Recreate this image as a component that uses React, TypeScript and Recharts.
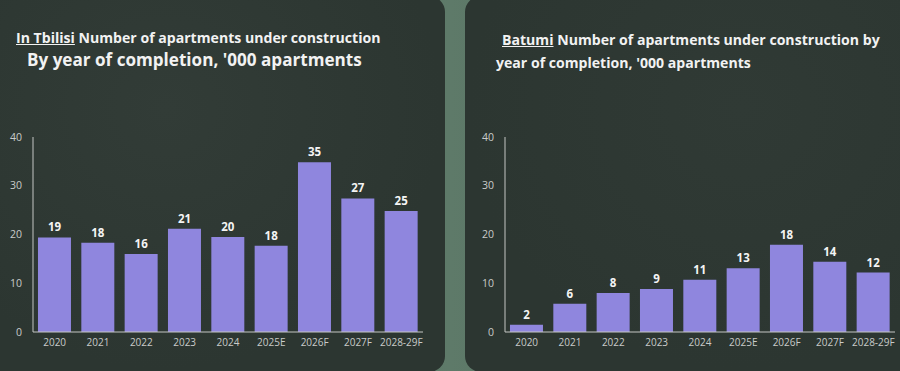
import { BarChart, Bar, XAxis, YAxis, LabelList } from 'recharts';

const years = ['2020', '2021', '2022', '2023', '2024', '2025E', '2026F', '2027F', '2028-29F'];
const tbilisiValues = [19.4, 18.3, 16.0, 21.2, 19.5, 17.7, 34.8, 27.4, 24.8];
const batumiValues = [1.5, 5.8, 8.0, 8.8, 10.7, 13.1, 17.9, 14.4, 12.2];
const yTicks = [0, 10, 20, 30, 40];

const BAR_COLOR = '#8f86de';
const PANEL_COLOR = '#2c3631';
const AXIS_COLOR = '#c4c6c4';
const FONT = '"Open Sans", "Noto Sans", sans-serif';

const toRows = (values: number[]) => years.map((year, i) => ({ year, value: values[i] }));

function YearChart({ values, width }: { values: number[]; width: number }) {
  const data = toRows(values);
  return (
    <BarChart
      width={width}
      height={240}
      data={data}
      margin={{ top: 17, right: width - 33 - 390, left: 0, bottom: 8 }}
      barCategoryGap="11.5%"
    >
      <XAxis
        dataKey="year"
        height={20}
        interval={0}
        tickLine={false}
        tickMargin={1}
        axisLine={{ stroke: AXIS_COLOR, strokeWidth: 1 }}
        tick={{ fill: '#c9cbc9', fontSize: 10, fontFamily: FONT }}
      />
      <YAxis
        width={33}
        domain={[0, 40]}
        ticks={yTicks}
        tickLine={false}
        tickMargin={5}
        axisLine={{ stroke: AXIS_COLOR, strokeWidth: 1 }}
        tick={{ fill: '#c9cbc9', fontSize: 10.5, fontFamily: FONT }}
      />
      <Bar dataKey="value" fill={BAR_COLOR} isAnimationActive={false}>
        <LabelList
          dataKey="value"
          position="top"
          offset={6}
          formatter={(v: number) => Math.round(v)}
          style={{ fill: '#f4f4f4', fontSize: 11.5, fontWeight: 700, fontFamily: FONT }}
        />
      </Bar>
    </BarChart>
  );
}

export default function App() {
  return (
    <div
      style={{
        position: 'absolute',
        left: 0,
        top: 0,
        width: 900,
        height: 371,
        overflow: 'hidden',
        fontFamily: FONT,
        background: 'linear-gradient(90deg, #4f6457 0%, #5e7a69 50%, #4f6457 100%)',
      }}
    >
      {/* Tbilisi panel */}
      <div
        style={{
          position: 'absolute',
          left: -20,
          top: -4,
          width: 465,
          height: 376,
          borderRadius: 16,
          background: `radial-gradient(ellipse at 40% 30%, #323c37 0%, ${PANEL_COLOR} 70%)`,
        }}
      />
      {/* Batumi panel */}
      <div
        style={{
          position: 'absolute',
          left: 465,
          top: -4,
          width: 460,
          height: 376,
          borderRadius: 16,
          background: `radial-gradient(ellipse at 60% 30%, #303a35 0%, ${PANEL_COLOR} 70%)`,
        }}
      />

      <div style={{ position: 'absolute', left: 16, top: 28, color: '#f2f2f2', fontWeight: 700, fontSize: 14.1, whiteSpace: 'nowrap' }}>
        <span style={{ textDecoration: 'underline' }}>In Tbilisi</span> Number of apartments under construction
      </div>
      <div style={{ position: 'absolute', left: 27, top: 48, color: '#f2f2f2', fontWeight: 700, fontSize: 17.1, whiteSpace: 'nowrap' }}>
        By year of completion, '000 apartments
      </div>

      <div style={{ position: 'absolute', left: 502, top: 30, color: '#f2f2f2', fontWeight: 700, fontSize: 14.1, whiteSpace: 'nowrap' }}>
        <span style={{ textDecoration: 'underline' }}>Batumi</span> Number of apartments under construction by
      </div>
      <div style={{ position: 'absolute', left: 496, top: 53, color: '#f2f2f2', fontWeight: 700, fontSize: 14.1, whiteSpace: 'nowrap' }}>
        year of completion, '000 apartments
      </div>

      <div style={{ position: 'absolute', left: 0, top: 120 }}>
        <YearChart values={tbilisiValues} width={440} />
      </div>
      <div style={{ position: 'absolute', left: 472, top: 120 }}>
        <YearChart values={batumiValues} width={428} />
      </div>
    </div>
  );
}
